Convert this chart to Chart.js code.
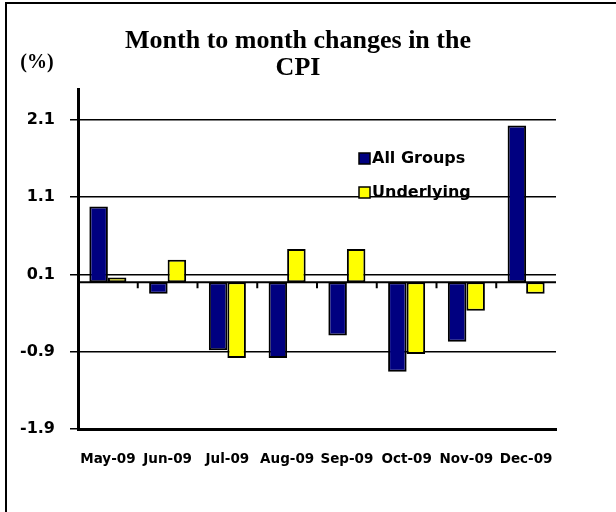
<!DOCTYPE html>
<html>
<head>
<meta charset="utf-8">
<script src="https://cdn.jsdelivr.net/npm/chart.js@4"></script>
<style>
  body { margin: 0; background: #fff; }
  #wrap { position: relative; width: 616px; height: 512px; overflow: hidden; }
  #chart { position: absolute; left: 0; top: 0; }
  .edge { position: absolute; background: #000; }
</style>
</head>
<body>
<div id="wrap">
  <canvas id="chart" width="616" height="512"></canvas>
  <div class="edge" style="left:5px;top:2px;width:611px;height:2px"></div>
  <div class="edge" style="left:5px;top:2px;width:2px;height:510px"></div>
</div>
<script>
const months = ['May-09', 'Jun-09', 'Jul-09', 'Aug-09', 'Sep-09', 'Oct-09', 'Nov-09', 'Dec-09'];
const allGroups = [0.98, -0.15, -0.88, -0.98, -0.69, -1.16, -0.77, 2.03];
const underlying = [0.06, 0.29, -0.98, 0.43, 0.43, -0.93, -0.37, -0.15];
const yTicks = [2.1, 1.1, 0.1, -0.9, -1.9];
const titleLines = ['Month to month changes in the', 'CPI'];
const unitLabel = '(%)';

const sans = "'DejaVu Sans', 'Liberation Sans', sans-serif";
const serif = "'Liberation Serif', 'Times New Roman', serif";

// zero line with the little category ticks hanging under it
const zeroLine = {
  id: 'zeroLine',
  beforeDatasetsDraw(chart) {
    const { ctx, chartArea, scales } = chart;
    const y0 = scales.y.getPixelForValue(0);
    ctx.save();
    ctx.strokeStyle = '#000';
    ctx.lineWidth = 2;
    ctx.beginPath();
    ctx.moveTo(chartArea.left, y0);
    ctx.lineTo(chartArea.right, y0);
    for (let i = 0; i < months.length - 1; i++) {
      const x = (scales.x.getPixelForValue(i) + scales.x.getPixelForValue(i + 1)) / 2;
      ctx.moveTo(x, y0);
      ctx.lineTo(x, y0 + 6);
    }
    ctx.stroke();
    ctx.restore();
  }
};

// legend inside the plot + the (%) unit label
const extras = {
  id: 'extras',
  afterDraw(chart) {
    const ctx = chart.ctx;
    ctx.save();
    ctx.fillStyle = '#000';
    ctx.font = 'bold 20px ' + serif;
    ctx.textAlign = 'center';
    ctx.textBaseline = 'middle';
    ctx.fillText(unitLabel, 37, 63);

    ctx.font = 'bold 16px ' + sans;
    ctx.textAlign = 'left';
    chart.data.datasets.forEach((ds, i) => {
      const y = 153 + i * 34;
      ctx.fillStyle = ds.backgroundColor;
      ctx.fillRect(359, y, 11, 11);
      ctx.strokeStyle = '#000';
      ctx.lineWidth = 1.5;
      ctx.strokeRect(359, y, 11, 11);
      ctx.fillStyle = '#000';
      ctx.fillText(ds.label, 372, y + 6);
    });
    ctx.restore();
  }
};

new Chart(document.getElementById('chart'), {
  type: 'bar',
  data: {
    labels: months,
    datasets: [
      { label: 'All Groups', data: allGroups, backgroundColor: '#000080' },
      { label: 'Underlying', data: underlying, backgroundColor: '#ffff00' }
    ]
  },
  options: {
    responsive: false,
    animation: false,
    datasets: {
      bar: {
        categoryPercentage: 0.62,
        barPercentage: 1,
        borderColor: '#000',
        borderWidth: 2,
        borderSkipped: false
      }
    },
    layout: { padding: { left: 40, right: 60, top: 0, bottom: 0 } },
    plugins: {
      legend: { display: false },
      tooltip: { enabled: false },
      title: {
        display: true,
        text: titleLines,
        color: '#000',
        font: { family: serif, size: 26, weight: 'bold', lineHeight: 1.04 },
        padding: { top: 28, bottom: 7 }
      }
    },
    scales: {
      x: {
        grid: { display: false, drawTicks: false },
        border: { display: true, color: '#000', width: 3 },
        ticks: {
          color: '#000',
          autoSkip: false,
          maxRotation: 0,
          padding: 22,
          font: { family: sans, size: 13.5, weight: 'bold' }
        },
        afterFit(scale) { scale.height = 83; }
      },
      y: {
        min: -1.9,
        max: 2.5,
        afterBuildTicks(scale) { scale.ticks = yTicks.map(v => ({ value: v })); },
        afterFit(scale) { scale.width = 38; },
        grid: { color: '#000', lineWidth: 1.5, tickLength: 8, tickColor: '#000' },
        border: { display: true, color: '#000', width: 3 },
        ticks: {
          color: '#000',
          // narrow axis box would clip the labels, so mirror them and pull back left
          mirror: true,
          crossAlign: 'far',
          padding: -58,
          font: { family: sans, size: 16, weight: 'bold' },
          callback: v => v.toFixed(1)
        }
      }
    }
  },
  plugins: [zeroLine, extras]
});
</script>
</body>
</html>
